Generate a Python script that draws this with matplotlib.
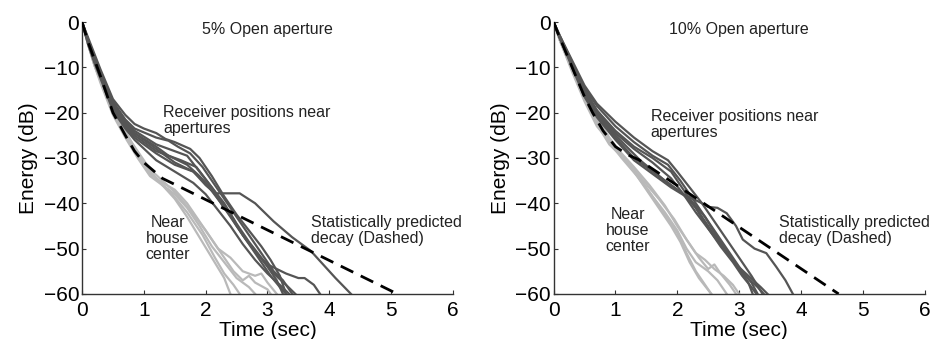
import matplotlib.pyplot as plt

plt.rcParams['font.family'] = ['Liberation Sans', 'DejaVu Sans']

DARK = '#555555'
LIGHT = '#b9b9b9'

# ---- 5% open aperture (left) ----
left_pred_t = [0, 0.1, 0.3, 0.5, 0.7, 0.85, 1.0, 1.3, 1.6, 5.1]
left_pred_db = [0, -4.5, -12, -20, -25, -28.5, -31, -34.5, -36.5, -60]

left_dark = [
    ([0, 0.1, 0.2, 0.3, 0.5, 0.7, 0.85, 1.0, 1.2, 1.35, 1.5, 1.75, 1.9, 2.1, 2.3, 2.5, 2.7, 2.9, 3.05, 3.2, 3.3],
     [0, -3.5, -7, -10.5, -17, -20.5, -22.5, -23.5, -24.5, -25.8, -26.5, -28, -30, -34, -38.5, -42.5, -46, -49.5, -52.5, -56, -60]),
    ([0, 0.1, 0.2, 0.3, 0.5, 0.7, 0.85, 1.2, 1.4, 1.55, 1.75, 1.95, 2.15, 2.35, 2.55, 2.75, 2.95, 3.1, 3.25, 3.4],
     [0, -4, -7.5, -11, -17.5, -21.5, -23.5, -25.5, -26.2, -27.5, -29, -32, -36, -40, -44, -48, -52, -55, -57, -60]),
    ([0, 0.1, 0.2, 0.3, 0.5, 0.7, 0.85, 1.2, 1.5, 1.7, 1.9, 2.1, 2.3, 2.5, 2.7, 2.9, 3.1, 3.3, 3.45],
     [0, -4, -8, -11.5, -18, -22, -24, -27, -28.5, -29.5, -33, -36.5, -40, -44.5, -48.5, -52, -55.5, -58, -60]),
    ([0, 0.1, 0.2, 0.3, 0.5, 0.7, 0.85, 1.2, 1.5, 1.8, 2.0, 2.25, 2.45, 2.65, 2.85, 3.0, 3.15, 3.3, 3.5, 3.6, 3.75, 3.85],
     [0, -4.5, -8.5, -12, -19, -23, -25.5, -29, -31.5, -33, -35.5, -40, -44, -48, -51.5, -53.5, -54.5, -55.5, -56.5, -56.5, -58, -60]),
    ([0, 0.1, 0.2, 0.3, 0.5, 0.7, 0.85, 1.2, 1.5, 1.8, 2.0, 2.15, 2.55, 2.8, 3.1, 3.4, 3.7, 3.9, 4.1, 4.35],
     [0, -4, -8, -11.5, -18.5, -22.5, -24.5, -28, -31, -33, -36, -37.8, -37.8, -40, -44, -47.5, -50.5, -53.5, -56.5, -60]),
    ([0, 0.1, 0.2, 0.3, 0.5, 0.7, 0.85, 1.2, 1.5, 1.8, 2.0, 2.2, 2.4, 2.6, 2.8, 3.0, 3.2, 3.35],
     [0, -5, -9, -12.5, -19.5, -23.5, -26, -30.5, -33, -35.5, -38, -41.5, -45, -49, -52.5, -55.5, -58, -60]),
    ([0, 0.1, 0.2, 0.3, 0.5, 0.7, 0.85, 1.2, 1.6, 1.85, 2.1, 2.3, 2.5, 2.7, 2.9, 3.05, 3.2, 3.3],
     [0, -4, -8, -11.5, -18.5, -22.5, -25, -28.5, -30.5, -32, -36.5, -40.5, -45, -49, -53, -56, -58.5, -60]),
    ([0, 0.1, 0.2, 0.3, 0.5, 0.7, 0.85, 1.2, 1.4, 1.7, 1.9, 2.1, 2.3, 2.45, 2.6, 2.8, 3.0, 3.15, 3.25],
     [0, -4.5, -8.5, -12, -18.5, -22.5, -24.5, -27.5, -29.5, -31.5, -34, -37, -41, -43.5, -47, -50.5, -54, -57, -60]),
]

left_light = [
    ([0, 0.1, 0.2, 0.3, 0.5, 0.7, 0.9, 1.1, 1.3, 1.5, 1.7, 1.9, 2.1, 2.3, 2.4],
     [0, -5, -9, -12.5, -19.5, -24.5, -29, -33, -36, -39, -43, -47.5, -52, -56.5, -60]),
    ([0, 0.1, 0.2, 0.3, 0.5, 0.7, 0.9, 1.1, 1.3, 1.5, 1.7, 1.9, 2.1, 2.3, 2.45, 2.6, 2.7, 2.8, 3.0, 3.05],
     [0, -5, -9.5, -13, -20, -25, -29.5, -33.5, -35.5, -37, -40, -44, -48, -52, -55, -57, -56, -57.5, -59, -60]),
    ([0, 0.1, 0.2, 0.3, 0.5, 0.7, 0.9, 1.1, 1.3, 1.5, 1.7, 1.9, 2.1, 2.3, 2.5, 2.7, 2.8],
     [0, -4.5, -8.5, -12, -19, -24, -29, -33, -36, -38, -41, -45, -49.5, -53, -56.5, -58.5, -60]),
    ([0, 0.1, 0.2, 0.3, 0.5, 0.7, 0.9, 1.1, 1.3, 1.5, 1.75, 2.0, 2.2, 2.4, 2.6, 2.8, 2.9, 3.0, 3.15],
     [0, -5, -9.5, -13, -20, -24.5, -28.5, -32.5, -35, -37.5, -41.5, -46, -50, -52, -55, -56, -55.5, -57.5, -60]),
    ([0, 0.1, 0.2, 0.3, 0.5, 0.7, 0.9, 1.1, 1.4, 1.7, 1.95, 2.15, 2.3, 2.45, 2.55],
     [0, -5, -9.5, -13.5, -20.5, -25.5, -30, -34, -37, -42, -47, -52, -55.5, -58, -60]),
]

# ---- 10% open aperture (right) ----
right_pred_t = [0, 0.1, 0.3, 0.5, 0.63, 0.8, 1.0, 1.2, 1.38, 4.61]
right_pred_db = [0, -3.5, -10, -16.5, -20, -24, -27.5, -29.3, -30.4, -60]

right_dark = [
    ([0, 0.1, 0.3, 0.5, 0.7, 1.0, 1.3, 1.6, 1.85, 2.0, 2.2, 2.4, 2.6, 2.8, 3.0, 3.2, 3.38],
     [0, -3, -8.5, -14, -18, -22, -25.5, -28.5, -30.5, -33, -36.5, -40, -44, -48, -52, -56, -60]),
    ([0, 0.1, 0.3, 0.5, 0.7, 1.0, 1.3, 1.6, 1.85, 2.05, 2.25, 2.45, 2.65, 2.85, 3.05, 3.2, 3.3],
     [0, -3, -9, -14.5, -18.5, -23, -26.5, -29.5, -31.5, -35, -39, -43, -47, -51, -55, -57.5, -60]),
    ([0, 0.1, 0.3, 0.5, 0.7, 1.0, 1.3, 1.6, 1.9, 2.1, 2.3, 2.5, 2.7, 2.9, 3.05, 3.2, 3.28],
     [0, -3.5, -9, -15, -19.5, -24, -27.5, -30, -33, -37, -41, -45.5, -49.5, -53, -56, -58.5, -60]),
    ([0, 0.1, 0.3, 0.5, 0.7, 1.0, 1.3, 1.6, 1.9, 2.1, 2.3, 2.55, 2.75, 2.95, 3.15, 3.35, 3.46],
     [0, -3.5, -9, -15, -19.5, -24.5, -28, -31, -34.5, -38, -42, -46.5, -50, -53.5, -56, -58.5, -60]),
    ([0, 0.1, 0.3, 0.5, 0.7, 1.0, 1.4, 1.8, 2.1, 2.4, 2.5, 2.65, 2.8, 2.95, 3.06, 3.25, 3.44, 3.6, 3.75, 3.87],
     [0, -3.5, -9.5, -15.5, -20, -25, -30.5, -35, -38, -40, -40.8, -41, -42.2, -45, -48, -50, -51, -54, -57, -60]),
    ([0, 0.1, 0.3, 0.5, 0.7, 1.0, 1.3, 1.6, 1.9, 2.2, 2.45, 2.65, 2.85, 3.0, 3.15, 3.22],
     [0, -3.5, -10, -16.5, -21, -26, -30.5, -33.5, -36.5, -39, -43, -47.5, -51.5, -54.5, -57.5, -60]),
    ([0, 0.1, 0.3, 0.5, 0.7, 1.0, 1.3, 1.6, 1.9, 2.1, 2.3, 2.5, 2.7, 2.9, 3.1, 3.3, 3.4],
     [0, -3.5, -9.5, -16, -20.5, -25.5, -30, -33, -36, -38, -41, -45, -49, -52.5, -56, -58.5, -60]),
]

right_light = [
    ([0, 0.1, 0.3, 0.5, 0.7, 0.9, 1.1, 1.3, 1.5, 1.7, 1.9, 2.05, 2.2, 2.35, 2.55],
     [0, -3.5, -10, -16.5, -21.5, -26, -29.5, -33, -37, -41, -45, -48.5, -53, -56.5, -60]),
    ([0, 0.1, 0.3, 0.5, 0.7, 0.9, 1.1, 1.3, 1.55, 1.8, 2.0, 2.2, 2.35, 2.5, 2.6, 2.7, 2.85, 2.95],
     [0, -3.5, -10, -16.5, -21, -25.5, -29, -32, -36, -40.5, -45, -49, -52, -54.5, -53.5, -55.5, -58, -60]),
    ([0, 0.1, 0.3, 0.5, 0.7, 0.9, 1.1, 1.35, 1.6, 1.8, 2.0, 2.15, 2.3, 2.5, 2.65, 2.8],
     [0, -4, -10.5, -17, -22, -26.5, -30, -34, -38.5, -42, -46, -50, -53, -55, -57, -60]),
    ([0, 0.1, 0.3, 0.5, 0.7, 0.9, 1.2, 1.45, 1.7, 1.95, 2.15, 2.3, 2.45, 2.6, 2.75, 2.9, 3.0],
     [0, -4, -10.5, -17, -22.5, -27, -31, -35, -39, -43.5, -48, -51, -52.5, -54.5, -56, -58, -60]),
    ([0, 0.1, 0.3, 0.5, 0.7, 1.0, 1.3, 1.55, 1.8, 2.0, 2.15, 2.3, 2.45, 2.55],
     [0, -4, -11, -17.5, -23, -28, -32.5, -37.5, -42.5, -46.5, -51, -55, -58, -60]),
]

x_ticks = [0, 1, 2, 3, 4, 5, 6]
y_ticks = [0, -10, -20, -30, -40, -50, -60]


def draw(ax, dark, light, pred_t, pred_db, title, rec_xy, near_xy, stat_xy):
    for t, db in light:
        ax.plot(t, db, color=LIGHT, lw=1.6, zorder=2)
    for t, db in dark:
        ax.plot(t, db, color=DARK, lw=1.6, zorder=3)
    ax.plot(pred_t, pred_db, color='black', lw=2.0, ls=(0, (5, 3)), zorder=4)

    ax.set_xlim(0, 6)
    ax.set_ylim(-60, 0)
    ax.set_xticks(x_ticks)
    ax.set_yticks(y_ticks)
    ax.spines['top'].set_visible(False)
    ax.spines['right'].set_visible(False)
    for s in ('left', 'bottom'):
        ax.spines[s].set_color('#333333')
        ax.spines[s].set_linewidth(1.0)
    ax.tick_params(direction='in', length=3, labelsize=15, color='#333333', pad=2)
    ax.tick_params(axis='x', pad=5)
    ax.set_xlabel('Time (sec)', fontsize=15, labelpad=1)
    ax.set_ylabel('Energy (dB)', fontsize=15, labelpad=4)

    ax.text(3.0, -1.6, title, fontsize=11.5, ha='center', va='center', color='#222222')
    ax.text(rec_xy[0], rec_xy[1], 'Receiver positions near\napertures', fontsize=11.5,
            ha='left', va='top', color='#222222', linespacing=1.1)
    ax.text(near_xy[0], near_xy[1], 'Near\nhouse\ncenter', fontsize=11.5,
            ha='center', va='top', color='#222222', linespacing=1.1)
    ax.text(stat_xy[0], stat_xy[1], 'Statistically predicted\ndecay (Dashed)', fontsize=11.5,
            ha='left', va='top', color='#222222', linespacing=1.1)


fig = plt.figure(figsize=(9.32, 3.39), dpi=100)
ax1 = fig.add_axes([0.088, 0.133, 0.398, 0.802])
ax2 = fig.add_axes([0.594, 0.133, 0.398, 0.802])

draw(ax1, left_dark, left_light, left_pred_t, left_pred_db, '5% Open aperture',
     (1.31, -18.3), (1.39, -42.6), (3.70, -42.6))
draw(ax2, right_dark, right_light, right_pred_t, right_pred_db, '10% Open aperture',
     (1.57, -19.2), (1.20, -40.8), (3.64, -42.6))

fig.savefig('out.png', dpi=100)
